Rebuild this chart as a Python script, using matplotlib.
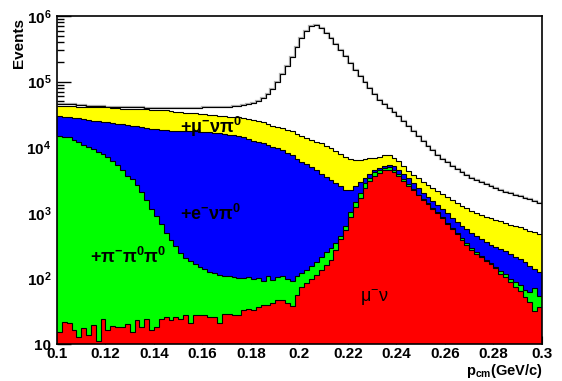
import numpy as np
import matplotlib
matplotlib.use("Agg")
import matplotlib.pyplot as plt
from matplotlib.ticker import FixedLocator, FixedFormatter, LogLocator, NullFormatter

plt.rcParams['font.family'] = ['Liberation Sans', 'DejaVu Sans']
plt.rcParams['font.weight'] = 'bold'
plt.rcParams['mathtext.fontset'] = 'custom'
plt.rcParams['mathtext.rm'] = 'Liberation Sans:bold'
plt.rcParams['mathtext.bf'] = 'Liberation Sans:bold'
plt.rcParams['mathtext.it'] = 'Liberation Sans:bold'
plt.rcParams['mathtext.default'] = 'regular'

# 100 bins of 0.002 GeV/c between 0.1 and 0.3
p_lo, p_hi, n_bins = 0.1, 0.3, 100

# cumulative stack heights (events per bin)
stack_total = [45600, 45600, 44800, 44800, 44000, 44000, 43200, 43200, 42500, 42500,
               41700, 41700, 41000, 41000, 41000, 40300, 40300, 40300, 39600, 39600,
               39600, 39600, 39600, 39600, 39600, 39600, 39600, 39600, 39600, 39600,
               40300, 40300, 41000, 41000, 41000, 41700, 42500, 42500, 44000, 45600,
               47200, 50700, 56300, 64800, 77200, 98700, 131000, 173000, 237000, 338000,
               462000, 591000, 705000, 717000, 646000, 549000, 462000, 374000, 303000, 245000,
               193000, 150000, 122000, 98700, 79900, 64800, 52400, 45600, 39600, 34400,
               29900, 25100, 21000, 17700, 14800, 12400, 10400, 9070, 7610, 6600,
               5950, 5170, 4650, 4190, 3770, 3450, 3160, 2950, 2750, 2560,
               2390, 2230, 2110, 2010, 1900, 1800, 1710, 1620, 1510, 1410]

stack_mu3 = [43200, 43200, 42500, 42500, 41700, 41700, 41000, 41000, 41000, 40300,
             40300, 39600, 39600, 38900, 38900, 38200, 38200, 37600, 37600, 36900,
             36900, 36300, 36300, 35600, 35000, 34400, 33800, 33200, 32700, 32100,
             31600, 31000, 30500, 29900, 29400, 28900, 28900, 28400, 27900, 26900,
             26000, 25100, 23800, 22600, 21400, 20300, 19300, 18300, 17400, 15900,
             14600, 13600, 12900, 12000, 11400, 10600, 9730, 8750, 7880, 7090,
             6610, 6380, 6380, 6500, 6740, 6840, 7090, 7480, 7610, 6960,
             6160, 5170, 4340, 3770, 3390, 2950, 2650, 2390, 2150, 1940,
             1740, 1570, 1410, 1290, 1180, 1080, 1010, 942, 878, 819,
             777, 737, 700, 663, 629, 597, 567, 537, 510, 475]

stack_e3 = [29400, 28900, 28400, 27900, 27400, 26900, 26000, 25500, 25100, 24200,
            23800, 23000, 22600, 22200, 21800, 21000, 20700, 20300, 19900, 19200,
            18900, 18600, 18000, 17700, 17700, 17700, 17400, 17400, 17400, 17300,
            17050, 16800, 16500, 16200, 15900, 15350, 15100, 14600, 14100, 13300,
            12600, 12000, 11400, 10800, 10200, 9560, 8910, 8160, 7480, 6720,
            6040, 5450, 4990, 4490, 3970, 3510, 3160, 2850, 2560, 2230,
            2190, 2520, 2900, 3360, 3900, 4460, 4820, 5130, 5390, 5170,
            4490, 3900, 3390, 2850, 2390, 2010, 1740, 1510, 1320, 1140,
            993, 833, 724, 629, 557, 492, 443, 399, 359, 328,
            301, 281, 262, 235, 212, 198, 178, 155, 139, 125]

stack_pi3 = [14820, 14400, 14100, 12900, 12000, 10800, 10100, 9250, 8450, 7880,
             7090, 6160, 5350, 4490, 3700, 3280, 2650, 2080, 1570, 1140,
             894, 675, 492, 385, 312, 244, 205, 185, 166, 150,
             137, 127, 119, 113, 109, 107, 105, 103, 101, 105,
             99, 103, 91, 107, 95, 105, 107, 98, 91, 109,
             121, 134, 152, 178, 215, 249, 291, 347, 440, 629,
             1030, 1460, 2010, 2800, 3450, 4190, 4570, 4900, 4990, 4490,
             3900, 3280, 2750, 2270, 1900, 1620, 1400, 1200, 1030, 870,
             687, 587, 492, 406, 341, 286, 253, 219, 191, 169,
             150, 130, 115, 98, 88, 79, 67, 62, 71, 53]

stack_mu2 = [15.2, 21.6, 20.9, 16.3, 12.9, 17.4, 13.7, 19.5, 11.0, 23.8,
             16.3, 18.8, 18.4, 18.4, 20.2, 15.4, 23.2, 18.4, 23.8, 16.3,
             18.4, 23.8, 26.1, 23.2, 26.1, 23.8, 27.7, 20.7, 27.7, 27.7,
             27.2, 26.1, 26.1, 20.7, 28.2, 28.2, 27.7, 27.7, 33.0, 33.8,
             33.0, 37.0, 39.3, 39.3, 41.7, 46.9, 46.9, 42.0, 37.9, 56.0,
             74, 85, 99, 113, 134, 160, 191, 271, 395, 547,
             863, 1230, 1681, 2390, 3050, 3640, 4110, 4490, 4570, 4190,
             3640, 3050, 2600, 2230, 1870, 1590, 1360, 1160, 993, 833,
             675, 567, 475, 385, 323, 271, 235, 209, 184, 163,
             144, 117, 105, 88, 74, 64, 52, 44, 31.3, 37.0]

layers = [stack_total, stack_mu3, stack_e3, stack_pi3, stack_mu2]
layer_colors = ["white", "#ffff00", "#0000ff", "#00ff00", "#ff0000"]

labels = [r"+$\mu^{-}\nu\pi^{0}$", r"+e$^{-}\nu\pi^{0}$", r"+$\pi^{-}\pi^{0}\pi^{0}$", r"$\mu^{-}\nu$"]
label_pos = [(0.1507, 20300), (0.1507, 960), (0.1136, 212), (0.2250, 50)]
label_weight = ["bold", "bold", "bold", "normal"]

xticks = [0.1, 0.12, 0.14, 0.16, 0.18, 0.2, 0.22, 0.24, 0.26, 0.28, 0.3]
xtick_labels = ["0.1", "0.12", "0.14", "0.16", "0.18", "0.2", "0.22", "0.24", "0.26", "0.28", "0.3"]
yticks = [10, 1e2, 1e3, 1e4, 1e5, 1e6]
ytick_labels = ["10", r"$10^{2}$", r"$10^{3}$", r"$10^{4}$", r"$10^{5}$", r"$10^{6}$"]

edges = np.linspace(p_lo, p_hi, n_bins + 1)

fig = plt.figure(figsize=(5.62, 3.81), dpi=100)
ax = fig.add_axes([0.1014, 0.0971, 0.8630, 0.8609])
ax.set_yscale("log")

for i, (vals, col) in enumerate(zip(layers, layer_colors)):
    ax.stairs(vals, edges, fill=True, baseline=1, facecolor=col, linewidth=0, zorder=2 + 2 * i)
    if i == 0:
        ax.stairs(vals, edges, baseline=None, color="#b0b0b0", linewidth=1.6, zorder=2.5)
    ax.stairs(vals, edges, baseline=None, color="black", linewidth=0.8, zorder=3 + 2 * i)

for txt, (x, y), w in zip(labels, label_pos, label_weight):
    ax.text(x, y, txt, fontsize=13, fontweight=w, ha="left", va="center", zorder=20)

ax.set_xlim(p_lo, p_hi)
ax.set_ylim(10, 1e6)

ax.xaxis.set_major_locator(FixedLocator(xticks))
ax.xaxis.set_major_formatter(FixedFormatter(xtick_labels))
ax.yaxis.set_major_locator(FixedLocator(yticks))
ax.yaxis.set_major_formatter(FixedFormatter(ytick_labels))
ax.yaxis.set_minor_locator(LogLocator(base=10, subs=np.arange(2, 10)))
ax.yaxis.set_minor_formatter(NullFormatter())

ax.tick_params(axis="both", which="both", direction="in", labelsize=11)
ax.tick_params(axis="y", which="major", length=10, width=1, pad=4)
ax.tick_params(axis="y", which="minor", length=5, width=1)
ax.tick_params(axis="x", which="major", length=6, pad=2)
ax.set_axisbelow(True)

for s in ax.spines.values():
    s.set_linewidth(1.2)
    s.set_zorder(30)

fig.text(19 / 562, 1 - 18 / 381, "Events", rotation=90, ha="center", va="top", fontsize=11, fontweight="bold")
fig.text(543 / 562, 1 / 381, r"p$_{cm}$(GeV/c)", ha="right", va="bottom", fontsize=10.5, fontweight="bold")

fig.savefig("out.png", dpi=100)
